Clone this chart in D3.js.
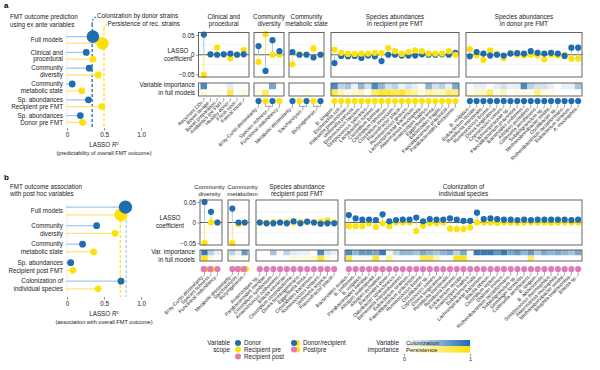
<!DOCTYPE html>
<html><head><meta charset="utf-8">
<script src="https://cdn.jsdelivr.net/npm/d3@7"></script>
<style>body{margin:0;background:#fff}svg{font-family:"Liberation Sans",Arial,Helvetica,sans-serif}</style>
</head><body><svg id="c" width="600" height="370"></svg>
<script>
// ---------------- DATA ----------------
const lolliALabels = [["Full models"],["Clinical and","procedural"],["Community","diversity"],["Community","metabolic state"],["Sp. abundances","Recipient pre FMT"],["Sp. abundances","Donor pre FMT"]];
const lolliAColon = [0.35,0.26,0.30,0.07,0.29,0.18];
const lolliAPersist = [0.48,0.35,0.42,0.20,0.47,0.21];
const lolliARef = {colon:0.34, persist:0.50};
const lolliBLabels = [["Full models"],["Community","diversity"],["Community","metabolic state"],["Sp. abundances","Recipient post FMT"],["Colonization of","individual species"]];
const lolliBColon = [0.79,0.40,0.21,0.05,0.73];
const lolliBPersist = [0.73,0.65,0.36,0.08,0.42];
const lolliBRef = {colon:0.80, persist:0.72};
const xTicks = [0,0.5,1.0];
const coefTicks = [-0.05,0,0.05];

// Panel a
const a1Names = ["Recurrent CDI","Bowel lavage","Bowel preparation","Antibiotics pre FMT","Healthy donor","Fresh stool","Faecal route"];
const a1Colon = [0.051,0.001,0,0.001,0.003,0,0.001];
const a1Persist = [-0.051,0.001,0.018,0.001,-0.009,0.001,0.012];
const a1HeatC = [0.8,0,0,0,0.12,0,0];
const a1HeatP = [0.15,0,0.06,0,0.7,0,0.15];
const a1Scope = null;

const a2Names = ["Bray-Curtis dissimilarity","Species richness","Functional redundancy"];
const a2Groups = [[0],[1,2],[3]];
const a2Colon = [0.022,-0.041,0.037,0.009];
const a2Persist = [-0.018,0.052,0,0];
const a2HeatC = [0,0,0.6,0];
const a2HeatP = [0.1,0.6,0,0];
const a2Scope = ["donor","recip","donor","recip"];

const a3Names = ["Metabolic dissimilarity","Saccharolysis","Butyrogenesis"];
const a3Groups = [[0],[1,2],[3,4]];
const a3Colon = [0.007,0,0,-0.007,0];
const a3Persist = [-0.024,0.001,0.001,0.016,0.001];
const a3HeatC = [0,0,0,0,0];
const a3HeatP = [0,0,0.1,0,0];
const a3Scope = ["donor","recip","donor","recip","donor"];

const a4Names = ["B. longum","Escherichia coli","Klebsiella pneumoniae","Veillonella parvula","Enterococcus faecium","Streptococcus salivarius","Lactobacillus ruminis","Clostridium bolteae","Clostridium ramosum","Clostridium innocuum","Flavonifractor plautii","Ruminococcus gnavus","Lachnospiraceae bacterium","Akkermansia muciniphila","Anaerostipes hadrus","Eggerthella lenta","Bacteroides fragilis","Faecalibacterium prausnitzii","Parabacteroides distasonis"];
const a4Colon = [-0.021,-0.003,-0.004,-0.003,-0.008,-0.002,-0.004,-0.016,0,0,-0.002,-0.002,-0.002,0.001,0,0,0.001,0,0.005];
const a4Persist = [0.013,0.005,0.002,0.002,0.003,0.003,0.005,0.004,0.017,0.009,0.002,0.007,0.011,0.009,0.003,0.003,0.003,0.009,0];
const a4HeatC = [0.8,0.3,0.4,0.1,0.5,0.2,0.8,0.5,0.2,0.3,0.1,0.2,0.1,0,0.5,0.2,0.3,0.1,0.6];
const a4HeatP = [0.7,0.3,0.1,0.2,0.3,0,0.6,0.8,0.8,0.7,0.8,0.5,0.4,0.1,0.4,0.3,0.3,0.6,0.5];
const a4Scope = a4Names.map(() => "recip");

const a5Names = ["B. vulgatus","Eubacterium rectale","Roseburia intestinalis","Ruminococcus bromii","Dorea longicatena","Coprococcus comes","Lachnospiraceae sp.","Faecalibacterium prausnitzii","Bacteroides uniformis","Alistipes putredinis","Collinsella aerofaciens","Subdoligranulum sp.","Methanobrevibacter smithii","Oscillibacter sp.","Ruthenibacterium lactatiformans","Eubacterium siraeum","A. muciniphila"];
const a5Colon = [-0.004,0.007,0.003,-0.002,0,-0.002,0.003,0.004,0.003,0.009,0.005,0.003,0.005,0.003,-0.003,0.018,0.018];
const a5Persist = [0.014,-0.002,-0.013,0.011,0.003,-0.008,0.005,0,-0.002,0,-0.002,-0.012,0,-0.002,0,-0.01,-0.01];
const a5HeatC = [0,0.1,0.1,0,0.1,0.2,0.1,0.1,0.8,0.3,0.2,0.2,0.1,0,0.1,0.1,0.4];
const a5HeatP = [0.1,0.2,0.3,0.6,0.1,0.3,0,0.1,0.1,0.1,0.5,0.1,0.1,0,0,0,0];
const a5Scope = a5Names.map(() => "donor");

// Panel b
const b1Names = ["Bray-Curtis dissimilarity","Species richness","Functional redundancy"];
const b1Colon = [0.05,0.026,0];
const b1Persist = [-0.05,0,0];
const b1HeatC = [0.9,0.3,0.1];
const b1HeatP = [0.9,0.15,0];
const b1Scope = ["postpre","postpre","post"];

const b2Names = ["Metabolic dissimilarity","Saccharolysis","Butyrogenesis"];
const b2Colon = [0.034,0,0];
const b2Persist = [-0.05,-0.004,0];
const b2HeatC = [0.3,0.1,0.7];
const b2HeatP = [0.15,0,0.1];
const b2Scope = ["post","postpre","postpre"];

const b3Names = ["Anaerostipes sp.","Parabacteroides merdae","Clostridium symbiosum","Anaerotruncus colihominis","Blautia wexlerae","Clostridium clostridioforme","Dorea formicigenerans","Eggerthella lenta","Clostridiales bacterium","Ruminococcus torques","Veillonella atypica","Flavonifractor plautii"];
const b3Colon = [0,-0.002,-0.002,0,-0.002,0.003,-0.002,0.002,0,-0.003,-0.002,-0.002];
const b3Persist = [0,0,0.001,0,0.001,0,0.001,0.001,0,0.002,0.005,0];
const b3HeatC = [0,0,0.4,0.05,0.3,0.15,0.1,0.1,0,0.8,0.2,0.1];
const b3HeatP = [0,0,0,0,0,0.15,0.1,0.15,0.2,0.8,0.2,0];
const b3Scope = b3Names.map(() => "post");

const b4Names = ["Bacteroides ovatus","B. uniformis","B. vulgatus","Parabacteroides merdae","Alistipes onderdonkii","Alistipes putredinis","Bacteroides dorei","Odoribacter splanchnicus","Barnesiella intestinihominis","Eubacterium siraeum","Faecalibacterium prausnitzii","Ruminococcus bromii","Oscillibacter sp.","Coprococcus comes","Dorea longicatena","Roseburia intestinalis","Roseburia hominis","Eubacterium rectale","Anaerostipes hadrus","Eubacterium hallii","Lachnospiraceae bacterium","Blautia obeum","Clostridium leptum","Dialister invisus","Ruthenibacterium lactatiformans","Subdoligranulum sp.","Gemmiger formicilis","Collinsella aerofaciens","B. longum","B. adolescentis","Streptococcus thermophilus","Akkermansia muciniphila","Methanobrevibacter smithii","Bilophila wadsworthia","Blautia sp."];
const b4Colon = [0.018,0.01,0.007,0.007,0.006,0.02,0.003,0.006,0.007,0.007,0.012,0.003,0.008,0.007,0.007,0.01,0.007,0.004,0.004,0.024,0.008,0.01,0.008,0.007,0.007,0.006,0.007,0.006,0.007,0.007,0.007,0.007,0.007,0.006,0.007];
const b4Persist = [-0.009,-0.009,-0.009,-0.002,-0.011,-0.002,-0.009,0,0,0,-0.021,-0.008,-0.002,-0.002,0,-0.015,-0.016,-0.016,-0.012,0,0,0,-0.001,0,0,-0.001,0,0,0,0,-0.001,0,0,0,0];
const b4HeatC = [0.8,0.5,0.7,0.7,0.6,0.9,0.05,0.3,0.5,0.5,0.4,0.6,0.5,0.4,0.5,0.6,0.3,0.6,0.05,0.9,0.9,0.9,0.7,0.9,0.6,0.7,0.5,0.7,0.4,0.6,0.5,0.6,0.5,0.4,0.6];
const b4HeatP = [0.7,0.05,0.1,0.1,0.8,0,0.4,0,0,0,0,0.7,0.7,0.3,0,0,0.9,0.9,0.1,0.1,0,0,0,0,0,0,0,0.6,0,0,0,0,0,0,0];
const b4Scope = b4Names.map(() => "post");

// ---------------- STYLE ----------------
const BLUE = "#1f6cb0", YEL = "#fde20a", PINK = "#e07ab8", LBLUE = "#a6c8e8", LYEL = "#fbe57a", TXT = "#222";
const scopeColor = {donor:BLUE, recip:YEL, post:PINK};

const svg = d3.select("#c");
const blueScale = d3.scaleLinear().domain([0,1]).range(["#ffffff", "#1f6cb0"]);
const yelScale = d3.scaleLinear().domain([0,1]).range(["#ffffff", "#fde000"]);

function txt(g, x, y, s, o = {}) {
  return g.append("text").attr("x", x).attr("y", y).text(s)
    .attr("font-size", o.size || 6.3).attr("fill", o.fill || TXT)
    .attr("text-anchor", o.anchor || "start").attr("font-weight", o.weight || null);
}

// ---------------- LOLLIPOP ----------------
function lolli(cfg) {
  const g = svg.append("g");
  const x = d3.scaleLinear().domain([0,1]).range([67,141]);
  const y = d3.scalePoint().domain(d3.range(cfg.labels.length)).range(cfg.yRange);
  const off = cfg.off;
  g.append("line").attr("x1", x(0)).attr("x2", x(0)).attr("y1", cfg.yRange[0]-8).attr("y2", cfg.axisY-2)
    .attr("stroke", "#ddd").attr("stroke-width", 0.6);
  g.append("line").attr("x1", x(cfg.ref.colon)).attr("x2", x(cfg.ref.colon)).attr("y1", cfg.refTop).attr("y2", cfg.axisY)
    .attr("stroke", cfg.refColonColor).attr("stroke-width", 1.3).attr("stroke-dasharray", "3,2");
  g.append("line").attr("x1", x(cfg.ref.persist)).attr("x2", x(cfg.ref.persist)).attr("y1", cfg.refTop2).attr("y2", cfg.axisY)
    .attr("stroke", YEL).attr("stroke-width", 1.3).attr("stroke-dasharray", "3,2");
  cfg.labels.forEach((lab, i) => {
    const yc = y(i);
    g.append("line").attr("x1", x(0)-1).attr("x2", x(cfg.colon[i])).attr("y1", yc-off).attr("y2", yc-off).attr("stroke", LBLUE).attr("stroke-width", 1.3);
    g.append("line").attr("x1", x(0)-1).attr("x2", x(cfg.persist[i])).attr("y1", yc+off).attr("y2", yc+off).attr("stroke", LYEL).attr("stroke-width", 1.3);
    const r = i === 0 ? cfg.bigR : 3.4;
    g.append("circle").attr("cx", x(cfg.persist[i])).attr("cy", yc+off).attr("r", r).attr("fill", YEL);
    g.append("circle").attr("cx", x(cfg.colon[i])).attr("cy", yc-off).attr("r", r).attr("fill", BLUE);
    if (lab.length === 1) txt(g, 63, yc+2.2, lab[0], {anchor:"end"});
    else { txt(g, 63, yc-off+2.2, lab[0], {anchor:"end"}); txt(g, 63, yc+off+2.2, lab[1], {anchor:"end"}); }
  });
  const ax = g.append("g").attr("transform", `translate(0,${cfg.axisY})`)
    .call(d3.axisBottom(x).tickValues(xTicks).tickSize(2.5).tickPadding(2)
      .tickFormat(d => d === 0 ? "0" : d3.format(".1f")(d)));
  ax.select(".domain").remove();
  ax.selectAll("line").attr("stroke", "#444").attr("stroke-width", 0.6);
  ax.selectAll("text").attr("font-size", 6.3).attr("fill", TXT).attr("font-family", null);
  const t = g.append("text").attr("x", x(0.5)).attr("y", cfg.axisY+19).attr("text-anchor", "middle").attr("font-size", 6.3).attr("fill", TXT);
  t.append("tspan").text("LASSO ");
  t.append("tspan").text("R").attr("font-style", "italic");
  t.append("tspan").text("2").attr("font-size", 4).attr("dy", -2.5);
  txt(g, x(0.5), cfg.axisY+27, cfg.sub, {anchor:"middle", size:5.6});
  return x;
}

const xa = lolli({labels:lolliALabels, colon:lolliAColon, persist:lolliAPersist, ref:lolliARef, yRange:[40,119], off:3.4,
  axisY:128, bigR:6.3, refTop:24, refTop2:28, refColonColor:BLUE, sub:"(predictability of overall FMT outcome)"});
const xb = lolli({labels:lolliBLabels, colon:lolliBColon, persist:lolliBPersist, ref:lolliBRef, yRange:[211,285], off:3.8,
  axisY:297, bigR:6.6, refTop:205, refTop2:205, refColonColor:LBLUE, sub:"(association with overall FMT outcome)"});

const ann = svg.append("g");
ann.append("path").attr("d", `M${xa(lolliARef.colon)+4},17 Q${xa(lolliARef.colon)},18 ${xa(lolliARef.colon)},24`)
  .attr("fill", "none").attr("stroke", BLUE).attr("stroke-width", 1.2).attr("stroke-dasharray", "2,1.5");
ann.append("path").attr("d", `M${xa(lolliARef.persist)+3},24 Q${xa(lolliARef.persist)},25 ${xa(lolliARef.persist)},28`)
  .attr("fill", "none").attr("stroke", YEL).attr("stroke-width", 1.2).attr("stroke-dasharray", "2,1.5");
txt(ann, 97, 18.2, "Colonization by donor strains");
txt(ann, 107.5, 25.5, "Persistence of rec. strains");

txt(svg, 4, 7.5, "a", {size:8, weight:"bold", fill:"#000"});
txt(svg, 4, 180, "b", {size:8, weight:"bold", fill:"#000"});
txt(svg, 10, 19.3, "FMT outcome prediction");
txt(svg, 10, 26.5, "using ex ante variables");
txt(svg, 10, 189, "FMT outcome association");
txt(svg, 10, 196.3, "with post hoc variables");

// ---------------- COEFFICIENT PANELS ----------------
function coefRow(rowCfg, panels) {
  const g = svg.append("g");
  const y = d3.scaleLinear().domain([-0.05,0.05]).range([rowCfg.y0, rowCfg.y1]);
  const ax = g.append("g").attr("transform", `translate(${panels[0].x0-0.5},0)`)
    .call(d3.axisLeft(y).tickValues(coefTicks).tickSize(2).tickPadding(1.5)
      .tickFormat(d => d === 0 ? "0" : (d > 0 ? "0.05" : "\u22120.05")));
  ax.select(".domain").remove();
  ax.selectAll("line").attr("stroke", "#444").attr("stroke-width", 0.6);
  ax.selectAll("text").attr("font-size", 6.3).attr("fill", TXT).attr("font-family", null);
  rowCfg.yLab.forEach((s, i) => txt(g, rowCfg.yLabX, rowCfg.yLabY[i], s, {anchor:"middle"}));
  rowCfg.hLab.forEach((s, i) => txt(g, 195, rowCfg.hLabY[i], s, {anchor:"end"}));

  panels.forEach(p => {
    const n = p.colon.length;
    const x = d3.scalePoint().domain(d3.range(n)).range([p.x0, p.x1]).padding(p.pad || 0.55);
    const st = x.step();
    const pg = g.append("g");
    const tx = p.titleX != null ? p.titleX : (p.x0+p.x1)/2;
    p.title.forEach((s, i) => txt(pg, tx, rowCfg.titleY[i], s, {anchor:"middle", size:p.titleSize || 6.3}));
    [-0.025, 0.025].forEach(v => pg.append("line").attr("x1", p.x0).attr("x2", p.x1).attr("y1", y(v)).attr("y2", y(v)).attr("stroke", "#ececec").attr("stroke-width", 0.6));
    pg.append("line").attr("x1", p.x0).attr("x2", p.x1).attr("y1", y(0)).attr("y2", y(0)).attr("stroke", "#333").attr("stroke-width", 0.8);
    d3.range(n).forEach(i => {
      pg.append("line").attr("x1", x(i)).attr("x2", x(i)).attr("y1", y(0)).attr("y2", y(p.colon[i])).attr("stroke", LBLUE).attr("stroke-width", 1);
      pg.append("line").attr("x1", x(i)).attr("x2", x(i)).attr("y1", y(0)).attr("y2", y(p.persist[i])).attr("stroke", LYEL).attr("stroke-width", 1);
    });
    d3.range(n).forEach(i => {
      const order = p.yellowTop ? [["c",BLUE],["p",YEL]] : [["p",YEL],["c",BLUE]];
      order.forEach(([k, col]) => pg.append("circle").attr("cx", x(i)).attr("cy", y(k === "c" ? p.colon[i] : p.persist[i])).attr("r", 3.1).attr("fill", col));
    });
    pg.append("rect").attr("x", p.x0).attr("y", rowCfg.boxTop).attr("width", p.x1-p.x0).attr("height", rowCfg.boxBot-rowCfg.boxTop)
      .attr("fill", "none").attr("stroke", "#555").attr("stroke-width", 0.9);
    const hm = (rowCfg.heatTop + rowCfg.heatBot)/2;
    d3.range(n).forEach(i => {
      const l = Math.max(p.x0, x(i)-st/2), r = Math.min(p.x1, x(i)+st/2);
      pg.append("rect").attr("x", l).attr("y", rowCfg.heatTop).attr("width", r-l).attr("height", hm-rowCfg.heatTop).attr("fill", blueScale(p.heatC[i]));
      pg.append("rect").attr("x", l).attr("y", hm).attr("width", r-l).attr("height", rowCfg.heatBot-hm).attr("fill", yelScale(p.heatP[i]));
    });
    pg.append("rect").attr("x", p.x0).attr("y", rowCfg.heatTop).attr("width", p.x1-p.x0).attr("height", rowCfg.heatBot-rowCfg.heatTop)
      .attr("fill", "none").attr("stroke", "#555").attr("stroke-width", 0.9);
    const dy = rowCfg.dotY;
    let hookStart = dy + 3.2;
    if (p.scope) {
      p.scope.forEach((s, i) => {
        if (s === "postpre") {
          pg.append("circle").attr("cx", x(i)+1.2).attr("cy", dy).attr("r", 3.1).attr("fill", YEL);
          pg.append("circle").attr("cx", x(i)-0.8).attr("cy", dy).attr("r", 3.1).attr("fill", PINK);
        } else {
          pg.append("circle").attr("cx", x(i)).attr("cy", dy).attr("r", 3.1).attr("fill", scopeColor[s]);
        }
      });
    } else hookStart = rowCfg.heatBot + 2;
    const groups = p.groups || d3.range(p.names.length).map(i => [i]);
    groups.forEach((gr, k) => {
      const xs = gr.map(i => x(i));
      const xm = d3.mean(xs);
      let yb = hookStart;
      if (gr.length > 1) {
        xs.forEach(xx => pg.append("line").attr("x1", xx).attr("x2", xx).attr("y1", yb).attr("y2", yb+2.2).attr("stroke", "#444").attr("stroke-width", 0.5));
        pg.append("line").attr("x1", d3.min(xs)).attr("x2", d3.max(xs)).attr("y1", yb+2.2).attr("y2", yb+2.2).attr("stroke", "#444").attr("stroke-width", 0.5);
        yb += 2.2;
      }
      pg.append("path").attr("d", `M${xm},${yb} L${xm},${yb+2.5} L${xm-1.3},${yb+4.3}`)
        .attr("fill", "none").attr("stroke", "#444").attr("stroke-width", 0.5);
      pg.append("text").attr("transform", `translate(${xm-1.2},${yb+5.5}) rotate(-45)`)
        .attr("text-anchor", "end").attr("font-size", 5).attr("fill", TXT).text(p.names[k]);
    });
  });
}

coefRow({y0:74.5, y1:35, boxTop:32.5, boxBot:77, heatTop:83, heatBot:96, dotY:101, titleY:[19,26],
  yLab:["LASSO","coefficient"], yLabX:178, yLabY:[52.5,60.5], hLab:["Variable importance","in full models"], hLabY:[87,95]}, [
  {title:["Clinical and","procedural"], x0:198.5, x1:249, pad:0.8, names:a1Names, colon:a1Colon, persist:a1Persist, heatC:a1HeatC, heatP:a1HeatP, scope:a1Scope},
  {title:["Community","diversity"], x0:254, x1:284, pad:0.65, names:a2Names, groups:a2Groups, colon:a2Colon, persist:a2Persist, heatC:a2HeatC, heatP:a2HeatP, scope:a2Scope},
  {title:["Community","metabolic state"], x0:289, x1:324, pad:0.5, names:a3Names, groups:a3Groups, colon:a3Colon, persist:a3Persist, heatC:a3HeatC, heatP:a3HeatP, scope:a3Scope},
  {title:["Species abundances","in recipient pre FMT"], x0:331, x1:459, pad:0.52, names:a4Names, colon:a4Colon, persist:a4Persist, heatC:a4HeatC, heatP:a4HeatP, scope:a4Scope, yellowTop:true},
  {title:["Species abundances","in donor pre FMT"], x0:466, x1:582, pad:0.57, names:a5Names, colon:a5Colon, persist:a5Persist, heatC:a5HeatC, heatP:a5HeatP, scope:a5Scope}
]);

coefRow({y0:243, y1:202, boxTop:200, boxBot:245, heatTop:250, heatBot:261, dotY:269, titleY:[189,196.3],
  yLab:["LASSO","coefficient"], yLabX:170, yLabY:[220,228], hLab:["Var. importance","in full models"], hLabY:[254,261.5]}, [
  {title:["Community","diversity"], titleX:209.5, titleSize:6, x0:200, x1:222, pad:0.7, names:b1Names, colon:b1Colon, persist:b1Persist, heatC:b1HeatC, heatP:b1HeatP, scope:b1Scope},
  {title:["Community","metabolism"], titleX:242.5, titleSize:6, x0:228, x1:249, pad:0.7, names:b2Names, colon:b2Colon, persist:b2Persist, heatC:b2HeatC, heatP:b2HeatP, scope:b2Scope},
  {title:["Species abundance","recipient post FMT"], x0:256, x1:338, pad:0.56, names:b3Names, colon:b3Colon, persist:b3Persist, heatC:b3HeatC, heatP:b3HeatP, scope:b3Scope},
  {title:["Colonization of","individual species"], x0:345, x1:582, pad:0.57, names:b4Names, colon:b4Colon, persist:b4Persist, heatC:b4HeatC, heatP:b4HeatP, scope:b4Scope}
]);

// ---------------- LEGEND ----------------
const scopeItems = [["Donor",["donor"]],["Recipient pre",["recip"]],["Recipient post",["post"]],["Donor/recipient",["donor","recip"]],["Post/pre",["post","recip"]]];
const LX = 238;
const lg = svg.append("g");
txt(lg, LX-8, 345, "Variable", {anchor:"end"});
txt(lg, LX-8, 352, "scope", {anchor:"end"});
scopeItems.forEach(([lab, cols], i) => {
  const cx = i < 3 ? LX : LX+56, cy = [343, 349.5, 356.5, 343, 349.5][i];
  if (cols.length === 2) {
    lg.append("circle").attr("cx", cx+3).attr("cy", cy).attr("r", 3).attr("fill", scopeColor[cols[1]]);
    lg.append("circle").attr("cx", cx).attr("cy", cy).attr("r", 3).attr("fill", scopeColor[cols[0]]);
  } else lg.append("circle").attr("cx", cx).attr("cy", cy).attr("r", 3).attr("fill", scopeColor[cols[0]]);
  txt(lg, cx + (cols.length === 2 ? 9 : 6), cy+2.1, lab);
});
const CB0 = 404, CB1 = 470;
txt(lg, CB0-5, 345, "Variable", {anchor:"end"});
txt(lg, CB0-5, 352, "importance", {anchor:"end"});
const defs = svg.append("defs");
[["gb", "#1f6cb0"], ["gy", "#fde000"]].forEach(([id, c]) => {
  const gr = defs.append("linearGradient").attr("id", id);
  gr.append("stop").attr("offset", "0%").attr("stop-color", "#fff");
  gr.append("stop").attr("offset", "100%").attr("stop-color", c);
});
const cb = d3.scaleLinear().domain([0,1]).range([CB0,CB1]);
lg.append("rect").attr("x", cb(0)).attr("y", 340).attr("width", cb(1)-cb(0)).attr("height", 6.3).attr("fill", "url(#gb)");
lg.append("rect").attr("x", cb(0)).attr("y", 346.3).attr("width", cb(1)-cb(0)).attr("height", 6.3).attr("fill", "url(#gy)");
txt(lg, CB0+2, 345.3, "Colonization", {size:6});
txt(lg, CB0+2, 351.6, "Persistence", {size:6});
const cax = lg.append("g").attr("transform", "translate(0,354)")
  .call(d3.axisBottom(cb).tickValues([0,1]).tickSize(2).tickPadding(1.5).tickFormat(d3.format("d")));
cax.select(".domain").remove();
cax.selectAll("line").attr("stroke", "#444").attr("stroke-width", 0.6);
cax.selectAll("text").attr("font-size", 5.5).attr("fill", TXT).attr("font-family", null);
</script></body></html>
